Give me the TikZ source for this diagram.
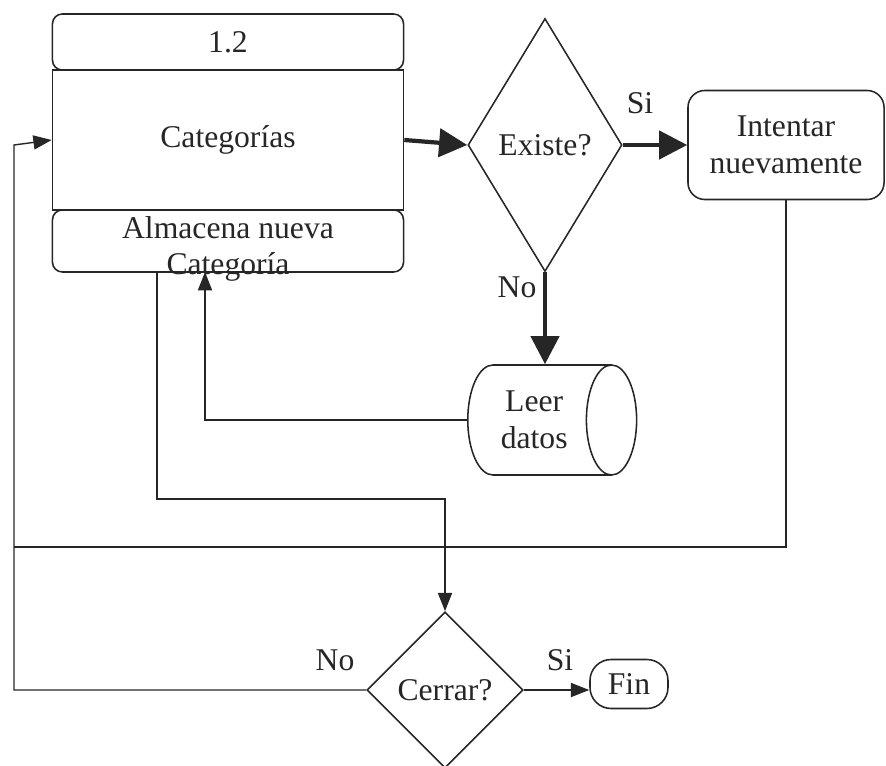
\documentclass[tikz,border=0pt]{standalone}
\usepackage{fontspec}
\setmainfont{Liberation Serif}
\usetikzlibrary{shapes.geometric, arrows.meta}

\begin{document}
\begin{tikzpicture}[x=0.025cm, y=-0.025cm, font=\fontsize{22.5}{26}\selectfont, color={black!85},
    part/.style={draw, line width=1.1pt, minimum width=8.775cm, inner sep=0pt, align=center},
    deci/.style={draw, diamond, line width=1.1pt, inner sep=0pt},
    box/.style={draw, rectangle, rounded corners=12pt, line width=1.1pt, align=center},
    n/.style={-{Triangle[length=13pt, width=10pt]}, line width=1pt},
    t/.style={-{Triangle[length=20pt, width=20pt]}, line width=3pt},
    l/.style={line width=1pt}]
    \useasboundingbox (0,0) rectangle (886,766);
    % nodes
    \node[part, rounded corners=7pt, minimum height=1.4cm] (num) at (228,42) {1.2};
    \node[part, minimum height=3.5cm] (cat) at (228,140) {Categorías};
    \node[part, rounded corners=7pt, minimum height=1.55cm] (alm) at (228,241) {};
    \node[align=center] (almtxt) at (228,249) {Almacena nueva\\Categoría};

    \node[deci, minimum width=3.85cm, minimum height=6.325cm] (existe) at (545,145) {Existe?};
    \node[box, minimum width=4.9cm, minimum height=2.725cm] (intentar) at (786,145) {Intentar\\nuevamente};
    \node[draw, cylinder, line width=1.1pt, shape aspect=0.75, minimum width=2.75cm, minimum height=4.22cm, align=center, anchor=west] (leer) at (467,420) {Leer\\datos};

    \node[deci, minimum width=3.9cm, minimum height=3.9cm] (cerrar) at (445,690) {Cerrar?};
    \node[box, rounded corners=15pt, minimum width=1.95cm, minimum height=1.225cm] (fin) at (629,684) {Fin};

    \node (si1) at (640,103) {Si};
    \node (no1) at (517,287) {No};
    \node (no2) at (335,660) {No};
    \node (si2) at (560,660) {Si};

    \coordinate (back) at (205,272);
    \coordinate (out) at (157,272);
    \coordinate (turn) at (157,499);
    \coordinate (join) at (14,547);
    \coordinate (left) at (14,145);
    % edges
    \draw [t] (cat.east) -- (existe.west);
    \draw [t] (existe.east) -- (intentar.west);
    \draw [t] (existe.south) -- (existe.south |- leer.north);

    \draw [n] (leer.west) -| (back);
    \draw [n] (out) -- (turn) -| (cerrar.north);
    \draw [l] (intentar.south) |- (join);
    \draw [n] (cerrar.west) -| (left) -- (cat.west);
    \draw [n] (cerrar.east) -- (cerrar.east -| fin.west);
\end{tikzpicture}
\end{document}
